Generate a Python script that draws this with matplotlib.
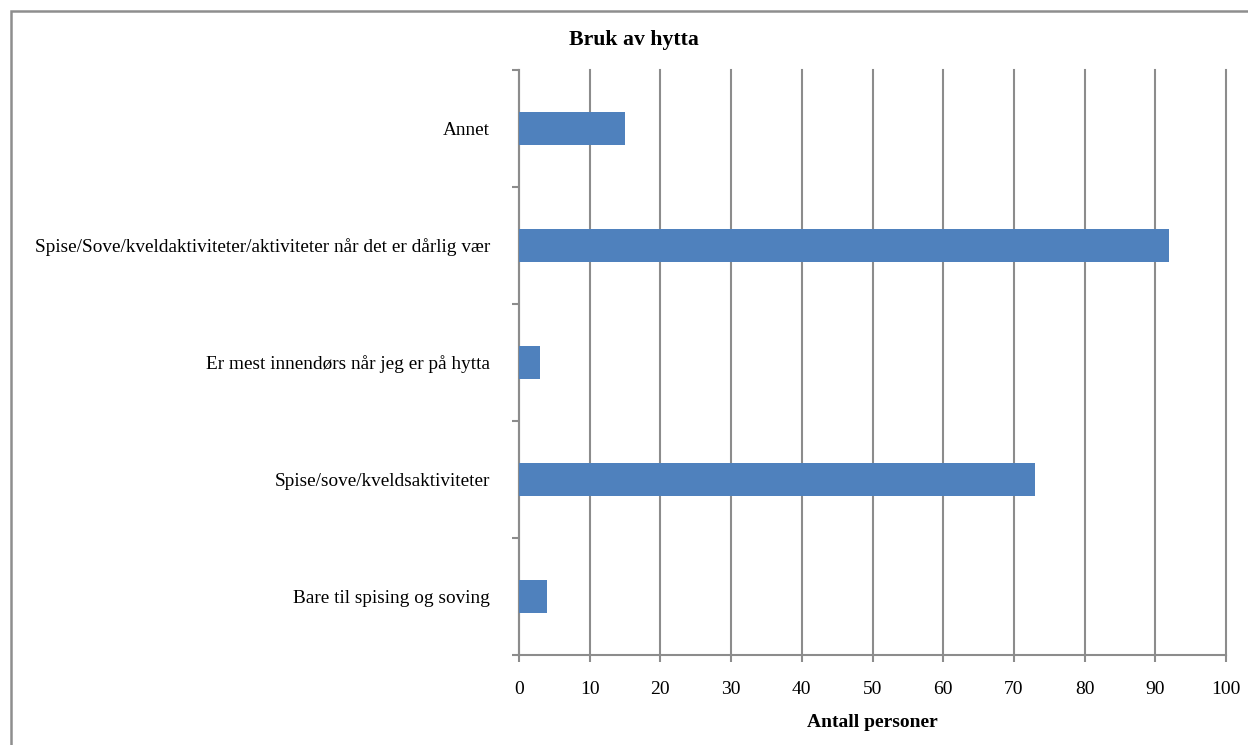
import matplotlib.pyplot as plt
from matplotlib.patches import Rectangle

categories = ['Bare til spising og soving',
              'Spise/sove/kveldsaktiviteter',
              'Er mest innendørs når jeg er på hytta',
              'Spise/Sove/kveldaktiviteter/aktiviteter når det er dårlig vær',
              'Annet']
values = [4, 73, 3, 92, 15]
xticks = [0, 10, 20, 30, 40, 50, 60, 70, 80, 90, 100]

plt.rcParams['font.family'] = ['Liberation Serif', 'DejaVu Serif']

grey = '#8c8c8c'
fig = plt.figure(figsize=(12.48, 7.45), dpi=100)
ax = fig.add_axes([519/1248, 1 - 655/745, 707/1248, 585/745])

pos = list(range(len(categories)))
ax.barh(pos, values, height=0.28, color='#4f81bd', zorder=3)

ax.set_xlim(0, 100)
ax.set_ylim(-0.5, len(categories) - 0.5)
ax.set_xticks(xticks)
ax.set_xticklabels([str(t) for t in xticks], fontsize=14)
ax.set_yticks(pos)
ax.set_yticklabels(categories, fontsize=13.9)
ax.tick_params(axis='y', length=0, pad=21)
ax.tick_params(axis='x', length=5, width=1.5, color=grey, pad=14)
# category boundary ticks on the y axis
ax.set_yticks([p - 0.5 for p in pos] + [len(categories) - 0.5], minor=True)
ax.tick_params(axis='y', which='minor', length=5, width=1.5, color=grey)

ax.grid(axis='x', color=grey, linewidth=1.5, zorder=0)
for gl in ax.get_xgridlines():
    gl.set_clip_on(False)
for s in ['top', 'right']:
    ax.spines[s].set_visible(False)
for s in ['left', 'bottom']:
    ax.spines[s].set_color(grey)
    ax.spines[s].set_linewidth(1.5)

ax.set_xlabel('Antall personer', fontsize=14, fontweight='bold', labelpad=11)
fig.text(634/1248, 1 - 40/745, 'Bruk av hytta', fontsize=15.7, fontweight='bold',
         ha='center', va='center')

fig.patches.append(Rectangle((10.5/1248, -0.1), 1.2, 1 - 10.5/745 + 0.1,
                             transform=fig.transFigure, fill=False,
                             edgecolor='#8e8e8e', linewidth=1.8))

fig.savefig('out.png', dpi=100)
